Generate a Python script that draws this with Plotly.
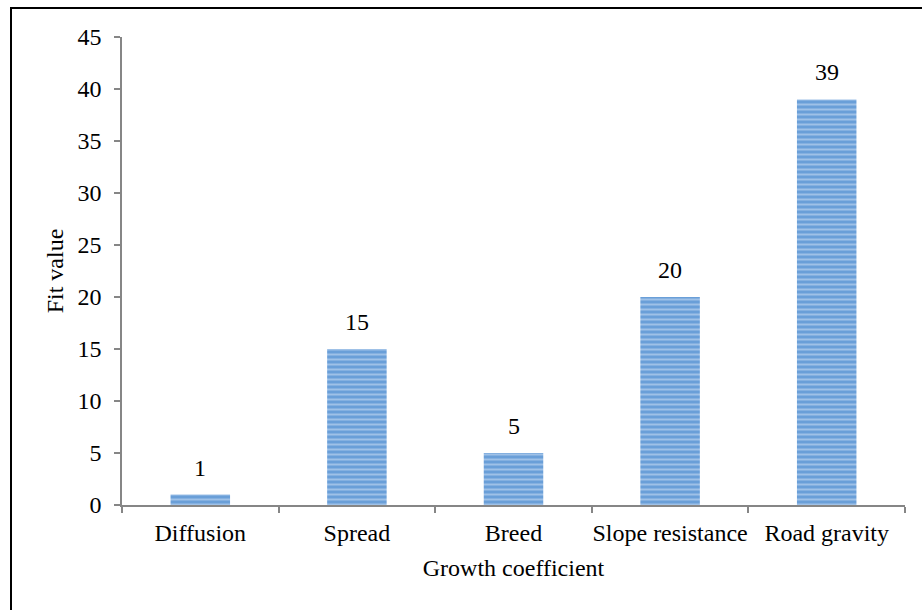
import plotly.graph_objects as go

categories = ["Diffusion", "Spread", "Breed", "Slope resistance", "Road gravity"]
fit_values = [1, 15, 5, 20, 39]
y_ticks = [0, 5, 10, 15, 20, 25, 30, 35, 40, 45]

W, H = 922, 610
L, R, T, B = 122, 17, 37, 105
pw, ph = W - L - R, H - T - B

FONT = "Liberation Serif"
FS = 24

fig = go.Figure(
    go.Bar(
        x=categories,
        y=fit_values,
        width=0.38,
        marker=dict(
            color="#6a9fd8",
            line=dict(width=0),
            pattern=dict(shape="-", fillmode="overlay", fgcolor="#d4e4f6",
                         bgcolor="#6a9fd8", size=5, solidity=0.4),
        ),
        hoverinfo="x+y",
    )
)

for c, v in zip(categories, fit_values):
    fig.add_annotation(x=c, y=v, text=str(v), showarrow=False,
                       yanchor="middle", yshift=27,
                       font=dict(family=FONT, size=FS, color="black"))

# outer frame around the chart
fig.add_shape(type="rect", xref="paper", yref="paper",
              x0=(11 - L) / pw, x1=(W + 5 - L) / pw,
              y0=(H - B - (H + 10)) / ph, y1=(H - B - 8) / ph,
              line=dict(color="black", width=2), fillcolor="rgba(0,0,0,0)",
              layer="above")

axis_color = "#868686"
fig.update_layout(
    width=W, height=H,
    margin=dict(l=L, r=R, t=T, b=B),
    paper_bgcolor="white", plot_bgcolor="white",
    font=dict(family=FONT, size=FS, color="black"),
    showlegend=False,
    bargap=0.62,
    xaxis=dict(
        tickson="boundaries", ticks="outside", ticklen=6, tickwidth=1.5,
        tickcolor=axis_color, showline=True, linecolor=axis_color, linewidth=1.5,
        showgrid=False, ticklabelstandoff=5, tickangle=0, automargin=False,
        tickfont=dict(family=FONT, size=FS, color="black"),
        title=dict(text="Growth coefficient", standoff=15,
                   font=dict(family=FONT, size=FS, color="black")),
    ),
    yaxis=dict(
        range=[0, 45], tickvals=y_ticks, ticks="outside", ticklen=6, tickwidth=1.5,
        tickcolor=axis_color, showline=True, linecolor=axis_color, linewidth=1.5,
        showgrid=False, zeroline=False, ticklabelstandoff=8, automargin=False,
        tickfont=dict(family=FONT, size=FS, color="black"),
        title=dict(text="Fit value", standoff=7,
                   font=dict(family=FONT, size=FS, color="black")),
    ),
)

fig.write_html("out.html")
